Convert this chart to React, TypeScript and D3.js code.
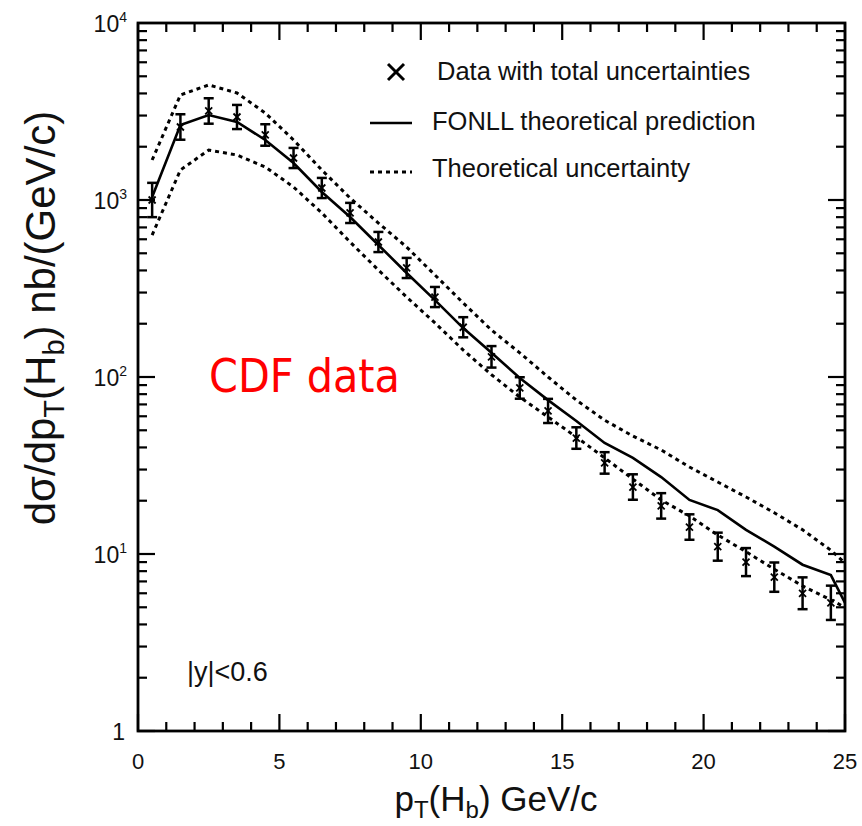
import React from 'react';
import * as d3 from 'd3';

// pT bin centres (GeV/c)
const ptBins = [0.5, 1.5, 2.5, 3.5, 4.5, 5.5, 6.5, 7.5, 8.5, 9.5, 10.5, 11.5, 12.5, 13.5, 14.5, 15.5, 16.5, 17.5, 18.5, 19.5, 20.5, 21.5, 22.5, 23.5, 24.5];
// CDF data (nb/(GeV/c))
const dataValues = [1000, 2585, 3184, 2944, 2330, 1727, 1169, 845, 579, 413, 283, 191, 130, 86.7, 64.3, 45.2, 32.7, 23.9, 18.7, 14.2, 11.0, 9.0, 7.4, 6.0, 5.3];
// total uncertainty (%)
const dataErrPct = [25, 18, 18, 17, 15, 14, 14, 14, 14, 14, 14, 14, 15, 15, 17, 15, 15, 18, 18, 18, 20, 20, 21, 23, 25];

// FONLL theory curve
const theoryPt = [0.5, 1.5, 2.5, 3.5, 4.5, 5.5, 6.5, 7.5, 8.5, 9.5, 10.5, 11.5, 12.5, 13.5, 14.5, 15.5, 16.5, 17.5, 18.5, 19.5, 20.5, 21.5, 22.5, 23.5, 24.5, 25];
const theoryCentral = [1040, 2654, 3020, 2760, 2183, 1618, 1110, 802, 557, 387, 272, 189, 137, 98.7, 74, 56.4, 42.4, 34.9, 27.2, 20.2, 17.7, 13.7, 11.0, 8.7, 7.6, 5.3];
const theoryUpper = [1683, 3920, 4467, 4025, 3100, 2183, 1477, 1026, 741, 542, 377, 262, 184, 137, 100, 74, 57, 46.4, 38.7, 31.0, 25.5, 21.0, 17.1, 13.7, 10.5, 8.9];
const theoryLower = [634, 1477, 1915, 1795, 1536, 1184, 845, 579, 402, 283, 202, 142, 103, 77, 59.4, 45.8, 34.9, 26.5, 20.2, 16.4, 12.8, 10.3, 8.2, 6.6, 5.5, 5.0];

const xTickLabels = ['0', '5', '10', '15', '20', '25'];
const yDecades = [1, 10, 100, 1000, 10000];
const yDecadeExp = ['', '1', '2', '3', '4'];

const legendLabels = ['Data with total uncertainties', 'FONLL theoretical prediction', 'Theoretical uncertainty'];

const W = 862, H = 826;
const L = 138, R = 845, T = 23, B = 731;

export default function App() {
  const x = d3.scaleLinear().domain([0, 25]).range([L, R]);
  const y = d3.scaleLog().domain([1, 10000]).range([B, T]);
  const line = d3.line<[number, number]>().x(d => x(d[0])).y(d => y(d[1]));
  const mk = (vals: number[]) => theoryPt.map((p, i) => [p, vals[i]] as [number, number]);

  const font = "'Liberation Sans', Arial, sans-serif";
  const ticks: JSX.Element[] = [];
  for (let v = 0; v <= 25; v++) {
    const len = v % 5 === 0 ? 17 : 9;
    ticks.push(<line key={'xb' + v} x1={x(v)} x2={x(v)} y1={B} y2={B - len} />);
    ticks.push(<line key={'xt' + v} x1={x(v)} x2={x(v)} y1={T} y2={T + len} />);
  }
  for (let d = 0; d < 4; d++) {
    for (let m = 1; m <= 9; m++) {
      const v = Math.pow(10, d) * m;
      const len = m === 1 ? 17 : 9;
      ticks.push(<line key={'yl' + v} x1={L} x2={L + len} y1={y(v)} y2={y(v)} />);
      ticks.push(<line key={'yr' + v} x1={R} x2={R - len} y1={y(v)} y2={y(v)} />);
    }
  }

  return (
    <svg width={W} height={H} style={{ position: 'absolute', left: 0, top: 0, background: '#fff' }}>
      <rect x={0} y={0} width={W} height={H} fill="#fff" />
      {/* theory */}
      <path d={line(mk(theoryUpper)) || ''} fill="none" stroke="#000" strokeWidth={3} strokeDasharray="4,4" />
      <path d={line(mk(theoryLower)) || ''} fill="none" stroke="#000" strokeWidth={3} strokeDasharray="4,4" />
      <path d={line(mk(theoryCentral)) || ''} fill="none" stroke="#000" strokeWidth={2.6} />
      {/* data */}
      {ptBins.map((p, i) => {
        const v = dataValues[i];
        const f = 1 + dataErrPct[i] / 100;
        const cx = x(p), cy = y(v), y1 = y(v * f), y2 = y(v / f);
        return (
          <g key={'d' + i} stroke="#000">
            <line x1={cx} x2={cx} y1={y1} y2={y2} strokeWidth={2.5} />
            <line x1={cx - 5} x2={cx + 5} y1={y1} y2={y1} strokeWidth={2.5} />
            <line x1={cx - 5} x2={cx + 5} y1={y2} y2={y2} strokeWidth={2.5} />
            <line x1={cx - 3.5} x2={cx + 3.5} y1={cy - 3.5} y2={cy + 3.5} strokeWidth={1.8} />
            <line x1={cx - 3.5} x2={cx + 3.5} y1={cy + 3.5} y2={cy - 3.5} strokeWidth={1.8} />
          </g>
        );
      })}
      {/* frame & ticks */}
      <g stroke="#000" strokeWidth={2.2}>{ticks}</g>
      <rect x={L} y={T} width={R - L} height={B - T} fill="none" stroke="#000" strokeWidth={2.8} />
      {/* x tick labels */}
      {xTickLabels.map((t) => (
        <text key={'xl' + t} x={x(+t)} y={769} textAnchor="middle" fontFamily={font} fontSize={22} fill="#111">{t}</text>
      ))}
      {/* y tick labels */}
      {yDecades.map((v, i) => (
        i === 0 ? (
          <text key={'yl' + v} x={125} y={y(v) + 9} textAnchor="end" fontFamily={font} fontSize={23} fill="#111">1</text>
        ) : (
          <text key={'yl' + v} x={127} y={y(v) + 9} textAnchor="end" fontFamily={font} fontSize={23} fill="#111">
            10<tspan dy={-10} fontSize={14}>{yDecadeExp[i]}</tspan>
          </text>
        )
      ))}
      {/* axis titles */}
      <text x={496} y={811} textAnchor="middle" fontFamily={font} fontSize={35} fill="#111">
        p<tspan fontSize={24} dy={7}>T</tspan><tspan dy={-7}>(H</tspan><tspan fontSize={24} dy={7}>b</tspan><tspan dy={-7}>) GeV/c</tspan>
      </text>
      <text transform="translate(55,318) rotate(-90)" textAnchor="middle" fontFamily={font} fontSize={42} fill="#111">
        dσ/dp<tspan fontSize={29} dy={9}>T</tspan><tspan dy={-9}>(H</tspan><tspan fontSize={29} dy={9}>b</tspan><tspan dy={-9}>) nb/(GeV/c)</tspan>
      </text>
      {/* legend */}
      <g stroke="#000" strokeWidth={3}>
        <line x1={388} x2={404} y1={64} y2={80} />
        <line x1={388} x2={404} y1={80} y2={64} />
        <line x1={370} x2={412} y1={123} y2={123} strokeWidth={2.6} />
        <line x1={370} x2={412} y1={172} y2={172} strokeDasharray="4,4" />
      </g>
      <text x={437} y={80} fontFamily={font} fontSize={25.5} fill="#111">{legendLabels[0]}</text>
      <text x={432} y={130} fontFamily={font} fontSize={25.5} fill="#111">{legendLabels[1]}</text>
      <text x={432} y={177} fontFamily={font} fontSize={25.5} fill="#111">{legendLabels[2]}</text>
      {/* annotations */}
      <text x={209} y={392} fontFamily="'DejaVu Sans Condensed', 'DejaVu Sans', sans-serif" fontStretch="condensed" fontSize={46} fill="#ff0000">CDF data</text>
      <text x={187} y={681} fontFamily={font} fontSize={27} fill="#111">|y|&lt;0.6</text>
    </svg>
  );
}
